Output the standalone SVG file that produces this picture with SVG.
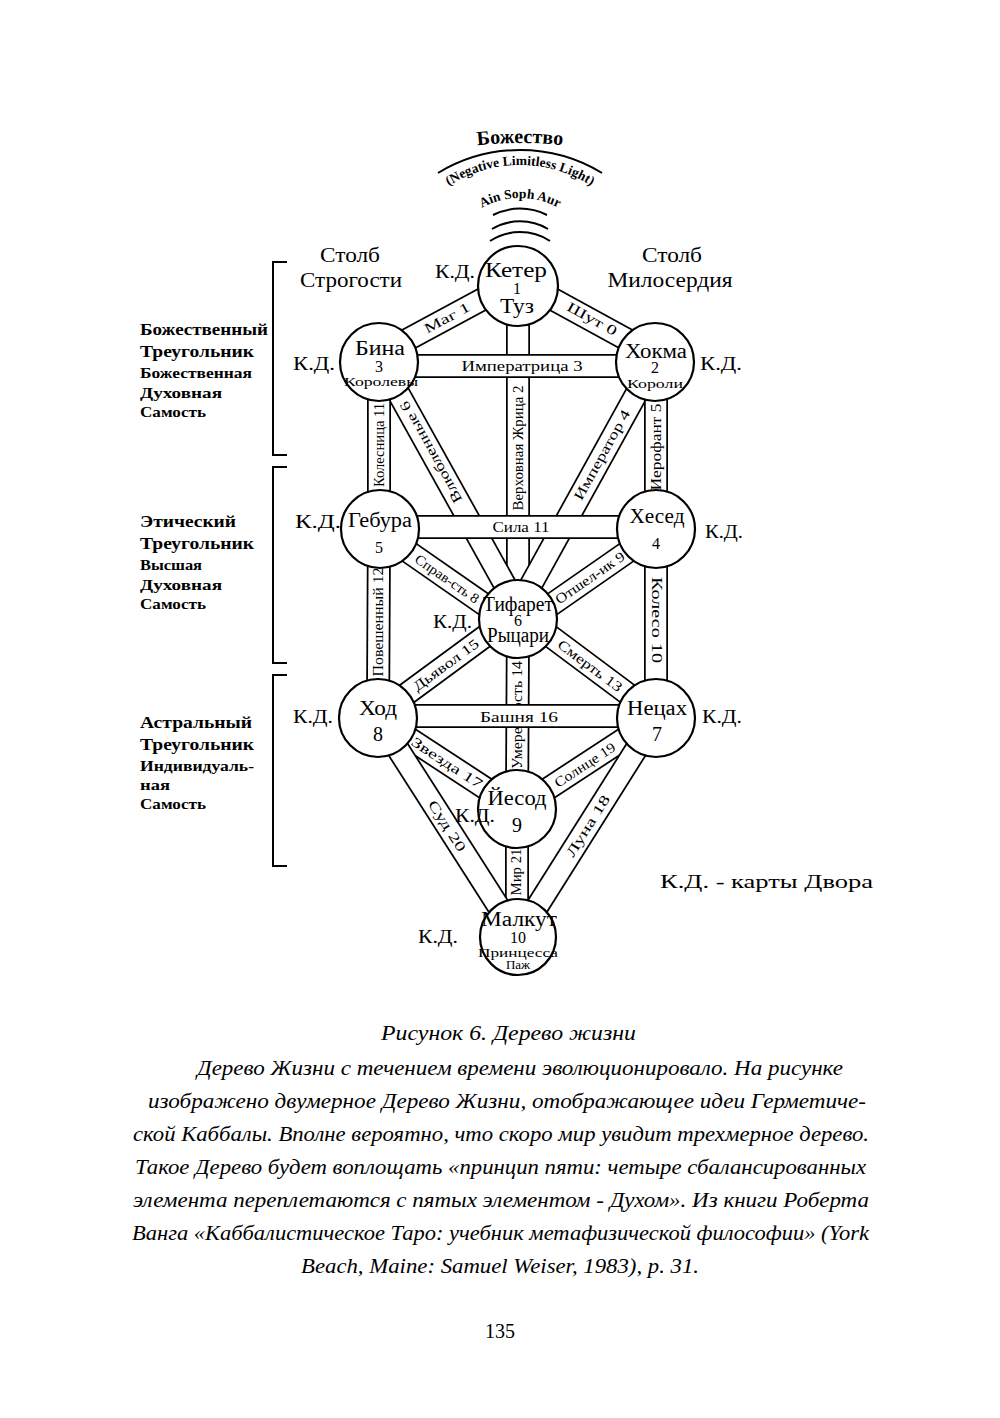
<svg xmlns="http://www.w3.org/2000/svg" width="1000" height="1418" viewBox="0 0 1000 1418">
<style>
text{font-family:"Liberation Serif","DejaVu Serif",serif;fill:#000}
.bo{stroke:#000;stroke-width:24;fill:none}
.bi{stroke:#fff;stroke-width:20.5;fill:none}
.pl{font-size:14px;text-anchor:middle;dominant-baseline:central}
.node circle{fill:#fff;stroke:#000;stroke-width:2.2}
.nm{font-size:20px;text-anchor:middle}
.nn{font-size:16px;text-anchor:middle}
.ns{font-size:13px;text-anchor:middle}
.kd{font-size:19px}
.hd{font-size:17px;font-weight:bold}
.sb{font-size:15px;font-weight:bold}
.col{font-size:20px;text-anchor:middle}
.cap{font-size:22px;font-style:italic}
.ln{stroke:#000;stroke-width:2;fill:none}
.tp{font-weight:bold;text-anchor:middle}
</style>
<defs>
<path id="arcBog" d="M 460 147.5 A 400 400 0 0 1 580 147.5"/>
<path id="arcNeg" d="M 440 192 A 132 132 0 0 1 600 192"/>
<path id="arcAin" d="M 470 215.6 A 80 80 0 0 1 570 215.6"/>
</defs>
<rect width="1000" height="1418" fill="#fff"/>

<g id="top">
<text class="tp" font-size="20"><textPath href="#arcBog" startOffset="50%">Божество</textPath></text>
<path class="ln" d="M 438 173 A 158 158 0 0 1 602 173"/>
<text class="tp" font-size="13.5"><textPath href="#arcNeg" startOffset="50%">(Negative Limitless Light)</textPath></text>
<text class="tp" font-size="13.5"><textPath href="#arcAin" startOffset="50%">Ain Soph Aur</textPath></text>
<path class="ln" d="M 493 215 A 60 60 0 0 1 547 215"/>
<path class="ln" d="M 492 229 A 55 55 0 0 1 548 229"/>
<path class="ln" d="M 490 241 A 55 55 0 0 1 550 241"/>
</g>

<g id="connectors">
<g id="p-priestess"><line class="bo" x1="518" y1="286" x2="518" y2="619"/><line class="bi" x1="518" y1="286" x2="518" y2="619"/><text class="pl" transform="translate(518 448) rotate(-90)" textLength="125" lengthAdjust="spacingAndGlyphs">Верховная Жрица 2</text></g>
<g id="p-temperance"><line class="bo" x1="518" y1="619" x2="517" y2="809"/><line class="bi" x1="518" y1="619" x2="517" y2="809"/><text class="pl" transform="translate(517 715) rotate(-90)" textLength="108" lengthAdjust="spacingAndGlyphs">Умеренность 14</text></g>
<g id="p-world"><line class="bo" x1="517" y1="809" x2="517" y2="937"/><line class="bi" x1="517" y1="809" x2="517" y2="937"/><text class="pl" transform="translate(516 872) rotate(-90)" textLength="47" lengthAdjust="spacingAndGlyphs">Мир 21</text></g>
<g id="p-magician"><line class="bo" x1="379" y1="355" x2="518" y2="280"/><line class="bi" x1="379" y1="355" x2="518" y2="280"/><text class="pl" transform="translate(447 318) rotate(-28.4)" textLength="50" lengthAdjust="spacingAndGlyphs">Маг 1</text></g>
<g id="p-fool"><line class="bo" x1="655" y1="355" x2="518" y2="280"/><line class="bi" x1="655" y1="355" x2="518" y2="280"/><text class="pl" transform="translate(592 319) rotate(28.7)" textLength="55" lengthAdjust="spacingAndGlyphs">Шут 0</text></g>
<g id="p-lovers"><line class="bo" x1="381" y1="362" x2="524" y2="619"/><line class="bi" x1="381" y1="362" x2="524" y2="619"/><text class="pl" transform="translate(431 452) rotate(-119)" textLength="114" lengthAdjust="spacingAndGlyphs">Влюбленные 6</text></g>
<g id="p-emperor"><line class="bo" x1="654" y1="362" x2="512" y2="619"/><line class="bi" x1="654" y1="362" x2="512" y2="619"/><text class="pl" transform="translate(602 455) rotate(-61)" textLength="101" lengthAdjust="spacingAndGlyphs">Император 4</text></g>
<g id="p-chariot"><line class="bo" x1="379" y1="362" x2="379" y2="529"/><line class="bi" x1="379" y1="362" x2="379" y2="529"/><text class="pl" transform="translate(379 445) rotate(-90)" textLength="84" lengthAdjust="spacingAndGlyphs">Колесница 11</text></g>
<g id="p-hierophant"><line class="bo" x1="656" y1="362" x2="656" y2="529"/><line class="bi" x1="656" y1="362" x2="656" y2="529"/><text class="pl" transform="translate(656 447) rotate(-90)" textLength="87" lengthAdjust="spacingAndGlyphs">Иерофант 5</text></g>
<g id="p-justice"><line class="bo" x1="380" y1="532" x2="518" y2="628"/><line class="bi" x1="380" y1="532" x2="518" y2="628"/><text class="pl" transform="translate(447 579) rotate(34.8)" textLength="75" lengthAdjust="spacingAndGlyphs">Справ-сть 8</text></g>
<g id="p-hermit"><line class="bo" x1="656" y1="532" x2="518" y2="628"/><line class="bi" x1="656" y1="532" x2="518" y2="628"/><text class="pl" transform="translate(590 578) rotate(-34.8)" textLength="81" lengthAdjust="spacingAndGlyphs">Отшел-ик 9</text></g>
<g id="p-hanged"><line class="bo" x1="379" y1="529" x2="378" y2="718"/><line class="bi" x1="379" y1="529" x2="378" y2="718"/><text class="pl" transform="translate(378 622) rotate(-90)" textLength="109" lengthAdjust="spacingAndGlyphs">Повешенный 12</text></g>
<g id="p-wheel"><line class="bo" x1="656" y1="529" x2="656" y2="718"/><line class="bi" x1="656" y1="529" x2="656" y2="718"/><text class="pl" transform="translate(656 620) rotate(90)" textLength="86" lengthAdjust="spacingAndGlyphs">Колесо 10</text></g>
<g id="p-devil"><line class="bo" x1="378" y1="715" x2="518" y2="612"/><line class="bi" x1="378" y1="715" x2="518" y2="612"/><text class="pl" transform="translate(446 665) rotate(-36.3)" textLength="78" lengthAdjust="spacingAndGlyphs">Дьявол 15</text></g>
<g id="p-death"><line class="bo" x1="518" y1="612" x2="656" y2="715"/><line class="bi" x1="518" y1="612" x2="656" y2="715"/><text class="pl" transform="translate(590 666) rotate(36.7)" textLength="77" lengthAdjust="spacingAndGlyphs">Смерть 13</text></g>
<g id="p-star"><line class="bo" x1="378" y1="718" x2="517" y2="809"/><line class="bi" x1="378" y1="718" x2="517" y2="809"/><text class="pl" transform="translate(447 763) rotate(33.2)" textLength="82" lengthAdjust="spacingAndGlyphs">Звезда 17</text></g>
<g id="p-sun"><line class="bo" x1="517" y1="809" x2="656" y2="718"/><line class="bi" x1="517" y1="809" x2="656" y2="718"/><text class="pl" transform="translate(585 765) rotate(-33.2)" textLength="70" lengthAdjust="spacingAndGlyphs">Солнце 19</text></g>
<g id="p-judgement"><line class="bo" x1="378" y1="718" x2="518" y2="937"/><line class="bi" x1="378" y1="718" x2="518" y2="937"/><text class="pl" transform="translate(447 826) rotate(57.4)" textLength="58" lengthAdjust="spacingAndGlyphs">Суд 20</text></g>
<g id="p-moon"><line class="bo" x1="518" y1="937" x2="656" y2="718"/><line class="bi" x1="518" y1="937" x2="656" y2="718"/><text class="pl" transform="translate(588 826) rotate(-57.8)" textLength="70" lengthAdjust="spacingAndGlyphs">Луна 18</text></g>
<g id="p-empress"><line class="bo" x1="379" y1="366" x2="655" y2="366"/><line class="bi" x1="379" y1="366" x2="655" y2="366"/><text class="pl" x="522" y="366" font-size="15" textLength="121" lengthAdjust="spacingAndGlyphs">Императрица 3</text></g>
<g id="p-strength"><line class="bo" x1="380" y1="527" x2="656" y2="527"/><line class="bi" x1="380" y1="527" x2="656" y2="527"/><text class="pl" x="521" y="527" textLength="57" lengthAdjust="spacingAndGlyphs">Сила 11</text></g>
<g id="p-tower"><line class="bo" x1="378" y1="716" x2="656" y2="716"/><line class="bi" x1="378" y1="716" x2="656" y2="716"/><text class="pl" x="519" y="717" font-size="15" textLength="78" lengthAdjust="spacingAndGlyphs">Башня 16</text></g>
</g>

<g id="keter" class="node"><circle cx="518" cy="286" r="40"/><text class="nm" x="516" y="277" font-size="19" textLength="62" lengthAdjust="spacingAndGlyphs">Кетер</text><text class="nn" x="517" y="294" font-size="14">1</text><text class="nm" font-size="15" x="517" y="313" textLength="34" lengthAdjust="spacingAndGlyphs">Туз</text></g>
<g id="binah" class="node"><circle cx="379" cy="362" r="39"/><text class="nm" x="380" y="355" font-size="19" textLength="50" lengthAdjust="spacingAndGlyphs">Бина</text><text class="nn" x="379" y="372" font-size="15">3</text><text class="ns" x="381" y="386" textLength="74" lengthAdjust="spacingAndGlyphs">Королевы</text></g>
<g id="chokmah" class="node"><circle cx="655" cy="362" r="39"/><text class="nm" x="656" y="358" font-size="19" textLength="62" lengthAdjust="spacingAndGlyphs">Хокма</text><text class="nn" x="655" y="373" font-size="15">2</text><text class="ns" x="655" y="388" font-size="14" textLength="56" lengthAdjust="spacingAndGlyphs">Короли</text></g>
<g id="geburah" class="node"><circle cx="380" cy="529" r="39"/><text class="nm" x="380" y="527" textLength="64" lengthAdjust="spacingAndGlyphs">Гебура</text><text class="nn" x="379" y="553" font-size="17">5</text></g>
<g id="chesed" class="node"><circle cx="656" cy="529" r="39"/><text class="nm" x="657" y="523" textLength="55" lengthAdjust="spacingAndGlyphs">Хесед</text><text class="nn" x="656" y="549" font-size="17">4</text></g>
<g id="tiferet" class="node"><circle cx="518" cy="619" r="39"/><text class="nm" x="518" y="611" font-size="16" textLength="70" lengthAdjust="spacingAndGlyphs">Тифарет</text><text class="nn" x="518" y="626" font-size="12">6</text><text class="nm" x="518" y="642" font-size="15" textLength="62" lengthAdjust="spacingAndGlyphs">Рыцари</text></g>
<g id="hod" class="node"><circle cx="378" cy="718" r="39"/><text class="nm" x="378" y="715" font-size="21" textLength="38" lengthAdjust="spacingAndGlyphs">Ход</text><text class="nm" x="378" y="741" font-size="21">8</text></g>
<g id="netzach" class="node"><circle cx="656" cy="718" r="39"/><text class="nm" x="657" y="715" font-size="21" textLength="60" lengthAdjust="spacingAndGlyphs">Нецах</text><text class="nm" x="657" y="741" font-size="21">7</text></g>
<g id="yesod" class="node"><circle cx="517" cy="809" r="39"/><text class="nm" x="517" y="805" textLength="59" lengthAdjust="spacingAndGlyphs">Йесод</text><text class="nm" x="517" y="832">9</text></g>
<g id="malkuth" class="node"><circle cx="518" cy="937" r="38"/><text class="nm" x="519" y="926" font-size="15" textLength="76" lengthAdjust="spacingAndGlyphs">Малкут</text><text class="nn" x="518" y="943" font-size="14">10</text><text class="ns" x="518" y="957" font-size="10" textLength="80" lengthAdjust="spacingAndGlyphs">Принцесса</text><text class="ns" x="518" y="969" font-size="10">Паж</text></g>

<g id="kd-labels">
<text class="kd" x="435" y="278" textLength="40" lengthAdjust="spacingAndGlyphs">К.Д.</text>
<text class="kd" x="293" y="370" textLength="42" lengthAdjust="spacingAndGlyphs">К.Д.</text>
<text class="kd" x="700" y="370" textLength="42" lengthAdjust="spacingAndGlyphs">К.Д.</text>
<text class="kd" x="295" y="528" textLength="46" lengthAdjust="spacingAndGlyphs">К.Д.</text>
<text class="kd" x="705" y="538" textLength="38" lengthAdjust="spacingAndGlyphs">К.Д.</text>
<text class="kd" x="433" y="628" textLength="39" lengthAdjust="spacingAndGlyphs">К.Д.</text>
<text class="kd" x="293" y="723" textLength="40" lengthAdjust="spacingAndGlyphs">К.Д.</text>
<text class="kd" x="702" y="723" textLength="40" lengthAdjust="spacingAndGlyphs">К.Д.</text>
<text class="kd" x="455" y="822" textLength="40" lengthAdjust="spacingAndGlyphs">К.Д.</text>
<text class="kd" x="418" y="943" textLength="40" lengthAdjust="spacingAndGlyphs">К.Д.</text>
<text class="kd" x="660" y="888" font-size="21" textLength="213" lengthAdjust="spacingAndGlyphs">К.Д. - карты Двора</text>
</g>

<g id="pillars">
<text class="col" x="350" y="262" textLength="60" lengthAdjust="spacingAndGlyphs">Столб</text>
<text class="col" x="351" y="287" textLength="102" lengthAdjust="spacingAndGlyphs">Строгости</text>
<text class="col" x="672" y="262" textLength="60" lengthAdjust="spacingAndGlyphs">Столб</text>
<text class="col" x="670" y="287" textLength="125" lengthAdjust="spacingAndGlyphs">Милосердия</text>
</g>

<g id="triangles">
<path class="ln" d="M 287 262 H 273 V 455 H 287"/>
<path class="ln" d="M 287 467 H 273 V 663 H 287"/>
<path class="ln" d="M 287 675 H 273 V 866 H 287"/>
<text class="hd" x="140" y="335" textLength="128" lengthAdjust="spacingAndGlyphs">Божественный</text>
<text class="hd" x="140" y="357" textLength="114" lengthAdjust="spacingAndGlyphs">Треугольник</text>
<text class="sb" x="140" y="378" textLength="112" lengthAdjust="spacingAndGlyphs">Божественная</text>
<text class="sb" x="140" y="398" textLength="82" lengthAdjust="spacingAndGlyphs">Духовная</text>
<text class="sb" x="140" y="417" textLength="66" lengthAdjust="spacingAndGlyphs">Самость</text>
<text class="hd" x="140" y="527" textLength="96" lengthAdjust="spacingAndGlyphs">Этический</text>
<text class="hd" x="140" y="549" textLength="114" lengthAdjust="spacingAndGlyphs">Треугольник</text>
<text class="sb" x="140" y="570" textLength="62" lengthAdjust="spacingAndGlyphs">Высшая</text>
<text class="sb" x="140" y="590" textLength="82" lengthAdjust="spacingAndGlyphs">Духовная</text>
<text class="sb" x="140" y="609" textLength="66" lengthAdjust="spacingAndGlyphs">Самость</text>
<text class="hd" x="140" y="728" textLength="112" lengthAdjust="spacingAndGlyphs">Астральный</text>
<text class="hd" x="140" y="750" textLength="114" lengthAdjust="spacingAndGlyphs">Треугольник</text>
<text class="sb" x="140" y="771" textLength="114" lengthAdjust="spacingAndGlyphs">Индивидуаль-</text>
<text class="sb" x="140" y="790" textLength="30" lengthAdjust="spacingAndGlyphs">ная</text>
<text class="sb" x="140" y="809" textLength="66" lengthAdjust="spacingAndGlyphs">Самость</text>
</g>

<g id="caption">
<text class="cap" x="381" y="1040" textLength="255" lengthAdjust="spacingAndGlyphs">Рисунок 6. Дерево жизни</text>
<text class="cap" x="197" y="1075" textLength="646" lengthAdjust="spacingAndGlyphs">Дерево Жизни с течением времени эволюционировало. На рисунке</text>
<text class="cap" x="148" y="1108" textLength="718" lengthAdjust="spacingAndGlyphs">изображено двумерное Дерево Жизни, отображающее идеи Герметиче-</text>
<text class="cap" x="133" y="1141" textLength="736" lengthAdjust="spacingAndGlyphs">ской Каббалы. Вполне вероятно, что скоро мир увидит трехмерное дерево.</text>
<text class="cap" x="135" y="1174" textLength="731" lengthAdjust="spacingAndGlyphs">Такое Дерево будет воплощать «принцип пяти: четыре сбалансированных</text>
<text class="cap" x="133" y="1207" textLength="736" lengthAdjust="spacingAndGlyphs">элемента переплетаются с пятых элементом - Духом». Из книги Роберта</text>
<text class="cap" x="132" y="1240" textLength="737" lengthAdjust="spacingAndGlyphs">Ванга «Каббалистическое Таро: учебник метафизической философии» (York</text>
<text class="cap" x="301" y="1273" textLength="398" lengthAdjust="spacingAndGlyphs">Beach, Maine: Samuel Weiser, 1983), p. 31.</text>
<text x="500" y="1338" font-size="20" text-anchor="middle">135</text>
</g>
</svg>
